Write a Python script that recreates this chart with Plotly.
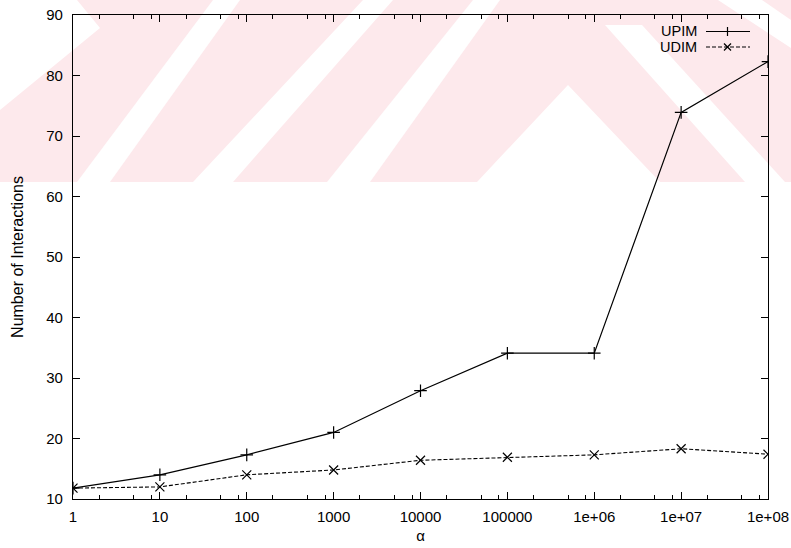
import plotly.graph_objects as go

# ---- data ----
alpha = [1, 10, 100, 1000, 10000, 100000, 1e6, 1e7, 1e8]
x_ticktext = ["1", "10", "100", "1000", "10000", "100000", "1e+06", "1e+07", "1e+08"]
upim = [11.8, 14.0, 17.3, 21.0, 27.9, 34.1, 34.1, 73.9, 82.3]
udim = [11.8, 12.0, 14.0, 14.8, 16.4, 16.9, 17.3, 18.3, 17.4]
y_ticks = [10, 20, 30, 40, 50, 60, 70, 80, 90]
minor_digits = [2, 5, 8]
series_names = ["UPIM", "UDIM"]

W, H = 791, 548
L, R, T, B = 73, 768, 15, 499
FONT = "Liberation Sans, Arial, Helvetica, sans-serif"
FS = 15

def pxp(x):
    return (x - L) / (R - L)

def pyp(y):
    return (B - y) / (B - T)

def poly(points):
    return "M " + " L ".join(f"{pxp(x):.5f},{pyp(y):.5f}" for x, y in points) + " Z"

fig = go.Figure()

fig.add_trace(go.Scatter(
    x=alpha, y=upim, mode="lines+markers", name=series_names[0],
    line=dict(color="black", width=1.2),
    marker=dict(symbol="cross-thin", size=9, line=dict(color="black", width=1.2)),
    showlegend=False))
fig.add_trace(go.Scatter(
    x=alpha, y=udim, mode="lines+markers", name=series_names[1],
    line=dict(color="black", width=1.1, dash="4px,2px"),
    marker=dict(symbol="x-thin", size=9, line=dict(color="black", width=1.2)),
    showlegend=False))

shapes = []
pink = "#fde9ec"
# faint watermark band behind the top of the chart
shapes.append(dict(type="path", xref="paper", yref="paper", layer="below",
                   path=poly([(0, 0), (W, 0), (W, 182), (0, 182)]),
                   fillcolor=pink, line=dict(width=0)))
white_polys = [
    [(0, 0), (77, 0), (100, 28), (0, 110)],
    [(77, 182), (110, 182), (240, 0), (213, 0)],
    [(193, 182), (233, 182), (393, 0), (363, 0)],
    [(327, 182), (370, 182), (500, 0), (473, 0)],
    [(477, 182), (568, 85), (660, 182)],
    [(605, 25), (642, 25), (785, 182), (745, 182)],
    [(718, 0), (762, 0), (791, 20), (791, 48)],
]
for pts in white_polys:
    shapes.append(dict(type="path", xref="paper", yref="paper", layer="below",
                       path=poly(pts), fillcolor="white", line=dict(width=0)))

# gnuplot-style legend (text left of the key sample)
ly1, ly2 = 31.5, 47
lx0, lx1, lxm = 706, 750, 727.5
shapes.append(dict(type="line", xref="paper", yref="paper",
                   x0=pxp(lx0), x1=pxp(lx1), y0=pyp(ly1), y1=pyp(ly1),
                   line=dict(color="black", width=1.2)))
shapes.append(dict(type="line", xref="paper", yref="paper",
                   x0=pxp(lxm), x1=pxp(lxm), y0=pyp(ly1 - 4.5), y1=pyp(ly1 + 4.5),
                   line=dict(color="black", width=1.2)))
shapes.append(dict(type="line", xref="paper", yref="paper",
                   x0=pxp(lx0), x1=pxp(lx1), y0=pyp(ly2), y1=pyp(ly2),
                   line=dict(color="black", width=1.1, dash="4px,2px")))
for d in (-1, 1):
    shapes.append(dict(type="line", xref="paper", yref="paper",
                       x0=pxp(lxm - 3.5), x1=pxp(lxm + 3.5),
                       y0=pyp(ly2 - 3.5 * d), y1=pyp(ly2 + 3.5 * d),
                       line=dict(color="black", width=1.2)))

annotations = [
    dict(text=series_names[0], xref="paper", yref="paper", x=pxp(698), y=pyp(ly1),
         xanchor="right", yanchor="middle", showarrow=False, borderpad=0,
         font=dict(family=FONT, size=14.5, color="black")),
    dict(text=series_names[1], xref="paper", yref="paper", x=pxp(698), y=pyp(ly2),
         xanchor="right", yanchor="middle", showarrow=False, borderpad=0,
         font=dict(family=FONT, size=14.5, color="black")),
]

minor_vals = [d * 10 ** k for k in range(8) for d in minor_digits]

fig.update_layout(
    width=W, height=H,
    margin=dict(l=L, r=W - R, t=T, b=H - B, autoexpand=False),
    paper_bgcolor="white", plot_bgcolor="rgba(0,0,0,0)",
    font=dict(family=FONT, size=FS, color="black"),
    shapes=shapes, annotations=annotations,
    showlegend=False,
)
fig.update_xaxes(
    type="log", range=[0, 8], tickmode="array", tickvals=alpha, ticktext=x_ticktext,
    ticks="inside", ticklen=7, tickwidth=1, tickcolor="black",
    showline=True, linecolor="black", linewidth=1.2, mirror="allticks",
    showgrid=False, zeroline=False, ticklabelstandoff=4,
    minor=dict(tickmode="array", tickvals=minor_vals, ticks="inside", ticklen=4,
               tickwidth=1, tickcolor="black", showgrid=False),
    title=dict(text="α", standoff=6, font=dict(family=FONT, size=FS)),
)
fig.update_yaxes(
    range=[10, 90], tickmode="array", tickvals=y_ticks,
    ticks="inside", ticklen=7, tickwidth=1, tickcolor="black",
    showline=True, linecolor="black", linewidth=1.2, mirror="allticks",
    showgrid=False, zeroline=False, ticklabelstandoff=6,
    title=dict(text="Number of Interactions", standoff=18, font=dict(family=FONT, size=16)),
)

fig.write_html("out.html", config={"displayModeBar": False},
               post_script="document.body.style.margin='0';document.body.style.overflow='hidden';")
